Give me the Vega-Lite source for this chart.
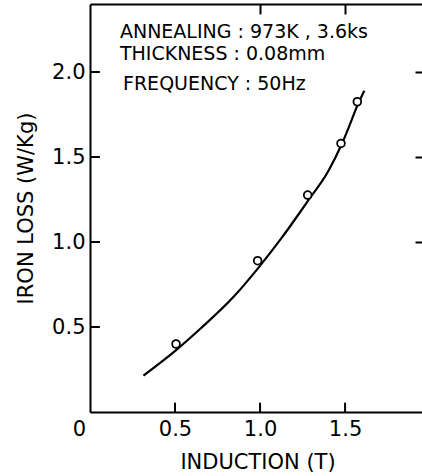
{
  "$schema": "https://vega.github.io/schema/vega-lite/v6.json",
  "autosize": "none",
  "width": 335,
  "height": 408,
  "padding": {"left": 90, "top": 4, "right": 0, "bottom": 64},
  "background": "white",
  "config": {
    "view": {"stroke": null},
    "font": "DejaVu Sans",
    "axis": {
      "domainColor": "black", "domainWidth": 2, "tickColor": "black", "tickWidth": 2,
      "labelColor": "black", "titleColor": "black", "grid": false,
      "labelFont": "DejaVu Sans", "titleFont": "DejaVu Sans",
      "labelFontSize": 21, "titleFontSize": 21, "titleFontWeight": "normal"
    }
  },
  "datasets": {
    "curve": [
      {"B": 0.314, "W": 0.214}, {"B": 0.51, "W": 0.367}, {"B": 0.647, "W": 0.488},
      {"B": 0.843, "W": 0.676}, {"B": 0.99, "W": 0.848}, {"B": 1.118, "W": 1.012},
      {"B": 1.235, "W": 1.175}, {"B": 1.28, "W": 1.24}, {"B": 1.4, "W": 1.415},
      {"B": 1.48, "W": 1.575}, {"B": 1.52, "W": 1.67}, {"B": 1.569, "W": 1.795},
      {"B": 1.613, "W": 1.89}
    ],
    "measured": [
      {"B": 0.506, "W": 0.4}, {"B": 0.986, "W": 0.89}, {"B": 1.28, "W": 1.276},
      {"B": 1.476, "W": 1.58}, {"B": 1.572, "W": 1.825}
    ],
    "notes": [
      {"B": 0.176, "W": 2.2, "label": "ANNEALING : 973K , 3.6ks"},
      {"B": 0.176, "W": 2.07, "label": "THICKNESS : 0.08mm"},
      {"B": 0.194, "W": 1.895, "label": "FREQUENCY : 50Hz"}
    ],
    "xticks": [{"B": 0.5}, {"B": 1.0}, {"B": 1.5}],
    "yticks": [{"W": 0.5}, {"W": 1.0}, {"W": 1.5}, {"W": 2.0}]
  },
  "resolve": {"axis": {"x": "independent", "y": "independent"}},
  "layer": [
    {
      "data": {"name": "curve"},
      "mark": {"type": "line", "color": "black", "strokeWidth": 2.2, "interpolate": "monotone"},
      "encoding": {
        "x": {"field": "B", "type": "quantitative", "scale": {"domain": [0, 1.97], "nice": false},
          "axis": {"orient": "top", "values": [1.0, 1.5], "labels": false, "tickSize": -10, "title": null}},
        "y": {"field": "W", "type": "quantitative", "scale": {"domain": [0, 2.4], "nice": false},
          "axis": {"orient": "right", "values": [1.0, 1.5, 2.0], "labels": false, "tickSize": -10, "title": null}}
      }
    },
    {
      "data": {"name": "measured"},
      "mark": {"type": "point", "shape": "circle", "filled": false, "fill": "white", "stroke": "black", "strokeWidth": 1.8, "size": 60, "opacity": 1},
      "encoding": {
        "x": {"field": "B", "type": "quantitative",
          "axis": {"orient": "bottom", "values": [0, 0.5, 1.0, 1.5], "labelFlush": false, "labelExpr": "datum.value === 0 ? '0' : format(datum.value, '.1f')",
            "ticks": false, "labelPadding": 6, "labelOffset": {"condition": {"test": "datum.value === 0", "value": -11}, "value": 0},
            "title": "INDUCTION  (T)", "titlePadding": 12}},
        "y": {"field": "W", "type": "quantitative",
          "axis": {"orient": "left", "values": [0.5, 1.0, 1.5, 2.0], "format": ".1f", "ticks": false, "labelPadding": 5,
            "title": "IRON LOSS  (W/Kg)", "titlePadding": 15}}
      }
    },
    {
      "data": {"name": "xticks"},
      "mark": {"type": "rule", "color": "black", "strokeWidth": 2},
      "encoding": {
        "x": {"field": "B", "type": "quantitative", "axis": null},
        "y": {"datum": 0, "type": "quantitative", "axis": null},
        "y2": {"datum": 0.055}
      }
    },
    {
      "data": {"name": "yticks"},
      "mark": {"type": "rule", "color": "black", "strokeWidth": 2},
      "encoding": {
        "y": {"field": "W", "type": "quantitative", "axis": null},
        "x": {"datum": 0, "type": "quantitative", "axis": null},
        "x2": {"datum": 0.058}
      }
    },
    {
      "data": {"name": "notes"},
      "mark": {"type": "text", "align": "left", "baseline": "alphabetic", "fontSize": 19, "color": "black", "font": "DejaVu Sans"},
      "encoding": {
        "x": {"field": "B", "type": "quantitative", "axis": null},
        "y": {"field": "W", "type": "quantitative", "axis": null},
        "text": {"field": "label"}
      }
    }
  ]
}
